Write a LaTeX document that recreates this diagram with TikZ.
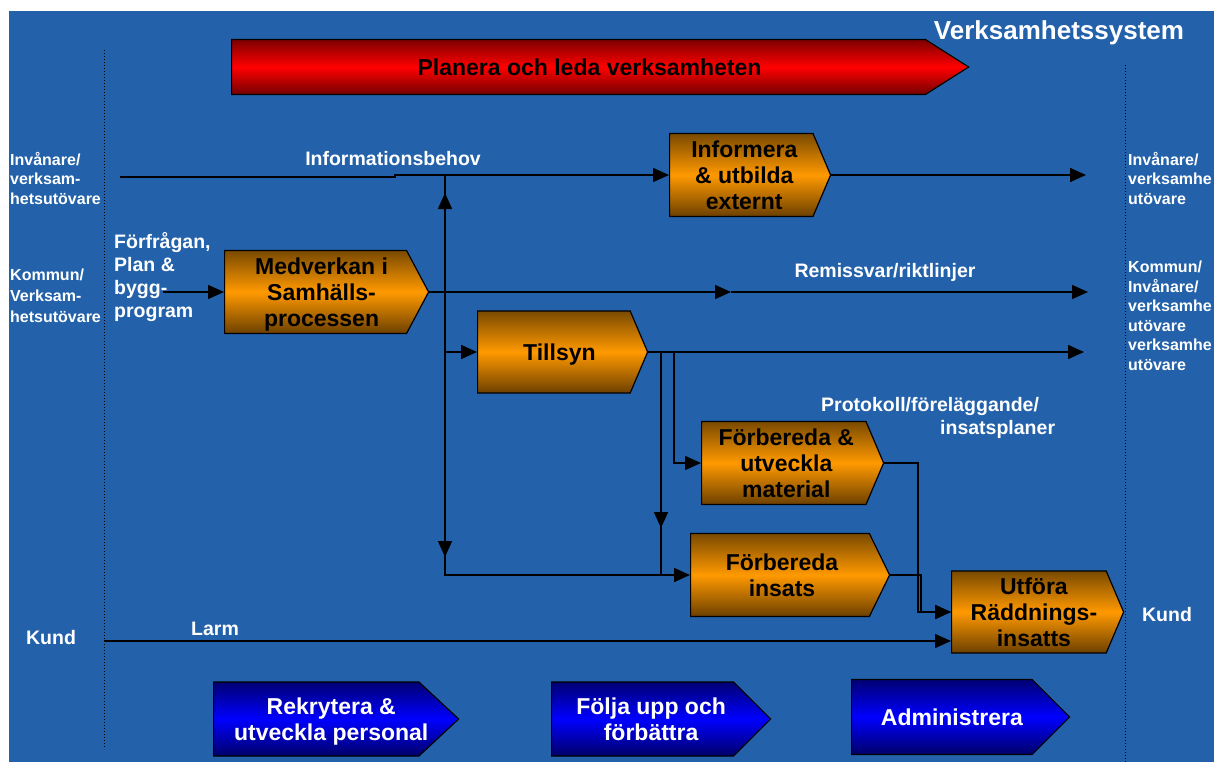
\documentclass[tikz,border=0pt]{standalone}
\usepackage{fontspec}
\setmainfont{Liberation Sans}
\usetikzlibrary{shapes.symbols,arrows.meta}

\definecolor{bgblue}{RGB}{35,98,170}
\definecolor{orTop}{RGB}{122,74,0}
\definecolor{orMid}{RGB}{255,153,0}
\definecolor{orBot}{RGB}{108,64,0}
\definecolor{rdTop}{RGB}{125,0,0}
\definecolor{rdMid}{RGB}{255,0,0}
\definecolor{rdBot}{RGB}{115,0,0}
\definecolor{blTop}{RGB}{0,0,115}
\definecolor{blMid}{RGB}{0,0,255}
\definecolor{blBot}{RGB}{0,0,105}

\newcommand{\boxtext}[2]{\hspace*{#1}\raisebox{-3pt}[\height][\depth]{\begin{tabular}{@{}c@{}}#2\end{tabular}}\hspace*{-#1}}

\tikzset{
    proc/.style={signal, signal to=east, signal pointer angle=134, draw=black, line width=1.2pt, inner sep=1pt, anchor=west, font=\fontsize{23}{26}\selectfont\bfseries, top color=orTop, bottom color=orBot, middle color=orMid, text=black},
    supp/.style={proc, top color=blTop, bottom color=blBot, middle color=blMid, text=white},
    lbl/.style={text=white, font=\fontsize{19.5}{23}\selectfont\bfseries, inner sep=0pt},
    side/.style={lbl, anchor=west, align=left, font=\fontsize{16}{19.5}\selectfont\bfseries},
    flow/.style={-{Triangle[length=16pt,width=14pt]}, line width=1.5pt},
}

\begin{document}
\begin{tikzpicture}[x=1pt, y=-1pt]
    \useasboundingbox (0,0) rectangle (1214,762);
    \fill[white] (0,0) rectangle (1214,762);
    \fill[bgblue] (9,11) rectangle (1214,762);
    \draw[dotted, line width=1pt] (104,50) -- (104,749);
    \draw[dotted, line width=1pt] (1125,65) -- (1125,762);

    \node[lbl, font=\fontsize{26}{28}\selectfont\bfseries] (sys) at (1059,33) {Verksamhetssystem};
    \node[proc, signal pointer angle=65, minimum width=737pt, minimum height=55pt, top color=rdTop, bottom color=rdBot, middle color=rdMid] (plan) at (231,67) {\boxtext{11pt}{Planera och leda verksamheten}};

    \node[proc, minimum width=161pt, minimum height=83pt] (info) at (669,175) {\boxtext{3pt}{Informera\\ \& utbilda\\ externt}};
    \node[proc, signal pointer angle=124, minimum width=204pt, minimum height=83pt] (med) at (224,292) {\boxtext{6pt}{Medverkan i\\ Samhälls-\\ processen}};
    \node[proc, minimum width=170pt, minimum height=82pt] (till) at (477,352) {\boxtext{5.5pt}{Tillsyn}};
    \node[proc, minimum width=182pt, minimum height=83pt] (mat) at (701,463) {\boxtext{2.5pt}{Förbereda \&\\ utveckla\\ material}};
    \node[proc, signal pointer angle=128, minimum width=199pt, minimum height=83pt] (ins) at (690,575) {\boxtext{2pt}{Förbereda\\ insats}};
    \node[proc, minimum width=172pt, minimum height=82pt] (utf) at (951,612) {\boxtext{5pt}{Utföra\\ Räddnings-\\ insatts}};

    \node[supp, signal pointer angle=86, minimum width=245pt, minimum height=74pt] (rek) at (213,719) {\boxtext{15pt}{Rekrytera \&\\ utveckla personal}};
    \node[supp, signal pointer angle=90, minimum width=219pt, minimum height=74pt] (folj) at (551,719) {\boxtext{8.5pt}{Följa upp och\\ förbättra}};
    \node[supp, signal pointer angle=90, minimum width=218pt, minimum height=75pt] (adm) at (851,717) {\boxtext{10pt}{Administrera}};

    \node[side] (vInv) at (10,178) {Invånare/\\ verksam-\\ hetsutövare};
    \node[side, font=\fontsize{16}{21}\selectfont\bfseries] (vKom) at (10,296) {Kommun/\\ Verksam-\\ hetsutövare};
    \node[side] (hInv) at (1128,178) {Invånare/\\ verksamhe\\ utövare};
    \node[side] (hKom) at (1128,316) {Kommun/\\ Invånare/\\ verksamhe\\ utövare\\ verksamhe\\ utövare};
    \node[lbl] (vKund) at (51,638) {Kund};
    \node[lbl] (hKund) at (1167,615) {Kund};
    \node[lbl] (behov) at (393,159) {Informationsbehov};
    \node[lbl] (remiss) at (885,272) {Remissvar/riktlinjer};
    \node[lbl] (larm) at (215,629) {Larm};
    \node[lbl, anchor=west, align=left] (fraga) at (114,277) {Förfrågan,\\ Plan \&\\ bygg-\\ program};
    \node[lbl, anchor=west, align=left] (prot) at (821,418) {Protokoll/föreläggande/\\ \hspace*{119pt}insatsplaner};

    \coordinate (inA) at (120,177);
    \coordinate (knA) at (395,177);
    \coordinate (utA) at (1086,175);
    \coordinate (inB) at (163,292);
    \coordinate (mitB) at (731,292);
    \coordinate (utB) at (1088,292);
    \coordinate (utC) at (1084,352);
    \coordinate (kA) at (445,175);
    \coordinate (kB) at (445,292);
    \coordinate (upp) at (445,193);
    \coordinate (ned) at (445,557);
    \coordinate (kD) at (674,352);
    \coordinate (kE) at (661,352);
    \coordinate (ned2) at (661,528);
    \coordinate (kF) at (918,612);
    \coordinate (kG) at (921,612);
    \coordinate (inL) at (104,641);

    \draw[flow] (inA) -- (knA) |- (info.west);
    \draw[flow] (info.east) -- (utA);
    \draw[flow] (inB) -- (med.west);
    \draw[flow] (med.east) -- (mitB);
    \draw[flow] (mitB) -- (utB);
    \draw[line width=1.5pt] (kA) -- (kB);
    \draw[flow] (kB) -- (upp);
    \draw[flow] (kB) -- (ned);
    \draw[flow] (kB) |- (till.west);
    \draw[flow] (kB) |- (ins.west);
    \draw[flow] (till.east) -- (utC);
    \draw[flow] (kD) |- (mat.west);
    \draw[line width=1.5pt] (kE) -- (kE |- ins.west);
    \draw[flow] (kE) -- (ned2);
    \draw[flow] (mat.east) -| (kF) -- (utf.west);
    \draw[flow] (ins.east) -| (kG) -- (utf.west);
    \draw[flow] (inL) -- (inL -| utf.west);
\end{tikzpicture}
\end{document}
